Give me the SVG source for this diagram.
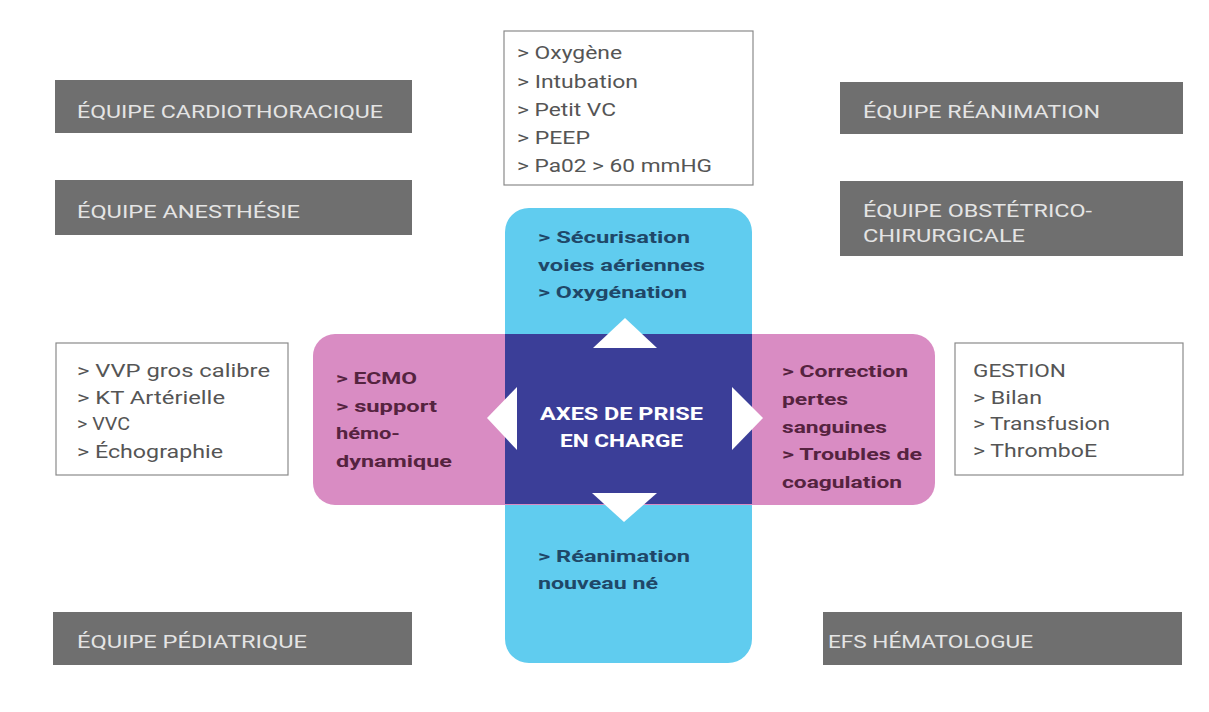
<svg xmlns="http://www.w3.org/2000/svg" width="1209" height="712" viewBox="0 0 1209 712">
<style>
.team rect{fill:#6f6f6f}
.team text{fill:#e4e4e4;font-family:Roboto,"Liberation Sans",sans-serif;font-size:18px}
.list rect{fill:#ffffff;stroke:#8a8a8a;stroke-width:1.2}
.list text{fill:#555555;font-family:Roboto,"Liberation Sans",sans-serif;font-size:18px}
.cyan text{fill:#1f4768;font-family:Roboto,"Liberation Sans",sans-serif;font-size:17px;font-weight:bold}
.pink text{fill:#55233f;font-family:Roboto,"Liberation Sans",sans-serif;font-size:17px;font-weight:bold}
.center text{fill:#ffffff;font-family:Roboto,"Liberation Sans",sans-serif;font-size:18px;font-weight:bold}
.arrow{fill:#ffffff}
</style>
<rect width="1209" height="712" fill="#ffffff"/>

<g id="axe-respiratoire" class="cyan">
  <rect x="505" y="208" width="247" height="455" rx="24" fill="#60ccef"/>
</g>
<g id="axe-hemodynamique" class="pink">
  <rect x="313" y="334" width="622" height="171" rx="22" fill="#d98cc3"/>
</g>
<g id="axes" class="center">
  <rect x="505" y="334" width="247" height="170" fill="#3b3e98"/>
  <text x="540" y="420" textLength="163" lengthAdjust="spacingAndGlyphs">AXES DE PRISE</text>
  <text x="560" y="447" textLength="123" lengthAdjust="spacingAndGlyphs">EN CHARGE</text>
</g>

<g id="txt-haut" class="cyan">
  <text x="538" y="243" textLength="152" lengthAdjust="spacingAndGlyphs">&gt; Sécurisation</text>
  <text x="538" y="271" textLength="167" lengthAdjust="spacingAndGlyphs">voies aériennes</text>
  <text x="538" y="298" textLength="149" lengthAdjust="spacingAndGlyphs">&gt; Oxygénation</text>
</g>
<g id="txt-bas" class="cyan">
  <text x="538" y="562" textLength="152" lengthAdjust="spacingAndGlyphs">&gt; Réanimation</text>
  <text x="538" y="589" textLength="120" lengthAdjust="spacingAndGlyphs">nouveau né</text>
</g>
<g id="txt-gauche" class="pink">
  <text x="336" y="384" textLength="81" lengthAdjust="spacingAndGlyphs">&gt; ECMO</text>
  <text x="336" y="412" textLength="101" lengthAdjust="spacingAndGlyphs">&gt; support</text>
  <text x="336" y="439" textLength="64" lengthAdjust="spacingAndGlyphs">hémo-</text>
  <text x="336" y="467" textLength="116" lengthAdjust="spacingAndGlyphs">dynamique</text>
</g>
<g id="txt-droite" class="pink">
  <text x="782" y="377" textLength="126" lengthAdjust="spacingAndGlyphs">&gt; Correction</text>
  <text x="782" y="405" textLength="66" lengthAdjust="spacingAndGlyphs">pertes</text>
  <text x="782" y="433" textLength="105" lengthAdjust="spacingAndGlyphs">sanguines</text>
  <text x="782" y="460" textLength="140" lengthAdjust="spacingAndGlyphs">&gt; Troubles de</text>
  <text x="782" y="488" textLength="120" lengthAdjust="spacingAndGlyphs">coagulation</text>
</g>

<g id="connectors">
  <polygon class="arrow" points="625,318 657,348 593,348"/>
  <polygon class="arrow" points="592,493 657,493 624,522"/>
  <polygon class="arrow" points="487,418 517,387 517,450"/>
  <polygon class="arrow" points="763,418 732,387 732,450"/>
</g>

<g id="liste-ventilation" class="list">
  <rect x="504" y="31" width="249" height="154"/>
  <text x="517" y="59" textLength="105" lengthAdjust="spacingAndGlyphs">&gt; Oxygène</text>
  <text x="517" y="88" textLength="121" lengthAdjust="spacingAndGlyphs">&gt; Intubation</text>
  <text x="517" y="116" textLength="99" lengthAdjust="spacingAndGlyphs">&gt; Petit VC</text>
  <text x="517" y="144" textLength="73" lengthAdjust="spacingAndGlyphs">&gt; PEEP</text>
  <text x="517" y="172" textLength="195" lengthAdjust="spacingAndGlyphs">&gt; Pa02 &gt; 60 mmHG</text>
</g>
<g id="liste-abords" class="list">
  <rect x="56" y="343" width="232" height="132"/>
  <text x="77" y="377" textLength="193" lengthAdjust="spacingAndGlyphs">&gt; VVP gros calibre</text>
  <text x="77" y="404" textLength="148" lengthAdjust="spacingAndGlyphs">&gt; KT Artérielle</text>
  <text x="77" y="430" textLength="53" lengthAdjust="spacingAndGlyphs">&gt; VVC</text>
  <text x="77" y="458" textLength="146" lengthAdjust="spacingAndGlyphs">&gt; Échographie</text>
</g>
<g id="liste-gestion" class="list">
  <rect x="955" y="343" width="228" height="132"/>
  <text x="973" y="377" textLength="93" lengthAdjust="spacingAndGlyphs">GESTION</text>
  <text x="973" y="404" textLength="69" lengthAdjust="spacingAndGlyphs">&gt; Bilan</text>
  <text x="973" y="430" textLength="137" lengthAdjust="spacingAndGlyphs">&gt; Transfusion</text>
  <text x="973" y="457" textLength="124" lengthAdjust="spacingAndGlyphs">&gt; ThromboE</text>
</g>

<g id="equipe-cardiothoracique" class="team">
  <rect x="55" y="80" width="357" height="53"/>
  <text x="77" y="118" textLength="306" lengthAdjust="spacingAndGlyphs">ÉQUIPE CARDIOTHORACIQUE</text>
</g>
<g id="equipe-anesthesie" class="team">
  <rect x="55" y="180" width="357" height="55"/>
  <text x="77" y="218" textLength="223" lengthAdjust="spacingAndGlyphs">ÉQUIPE ANESTHÉSIE</text>
</g>
<g id="equipe-reanimation" class="team">
  <rect x="840" y="82" width="343" height="52"/>
  <text x="863" y="118" textLength="237" lengthAdjust="spacingAndGlyphs">ÉQUIPE RÉANIMATION</text>
</g>
<g id="equipe-obstetrico" class="team">
  <rect x="840" y="181" width="343" height="75"/>
  <text x="863" y="217" textLength="229" lengthAdjust="spacingAndGlyphs">ÉQUIPE OBSTÉTRICO-</text>
  <text x="863" y="242" textLength="162" lengthAdjust="spacingAndGlyphs">CHIRURGICALE</text>
</g>
<g id="equipe-pediatrique" class="team">
  <rect x="53" y="612" width="359" height="53"/>
  <text x="77" y="648" textLength="230" lengthAdjust="spacingAndGlyphs">ÉQUIPE PÉDIATRIQUE</text>
</g>
<g id="efs-hematologue" class="team">
  <rect x="823" y="612" width="359" height="53"/>
  <text x="828" y="648" textLength="205" lengthAdjust="spacingAndGlyphs">EFS HÉMATOLOGUE</text>
</g>
</svg>
